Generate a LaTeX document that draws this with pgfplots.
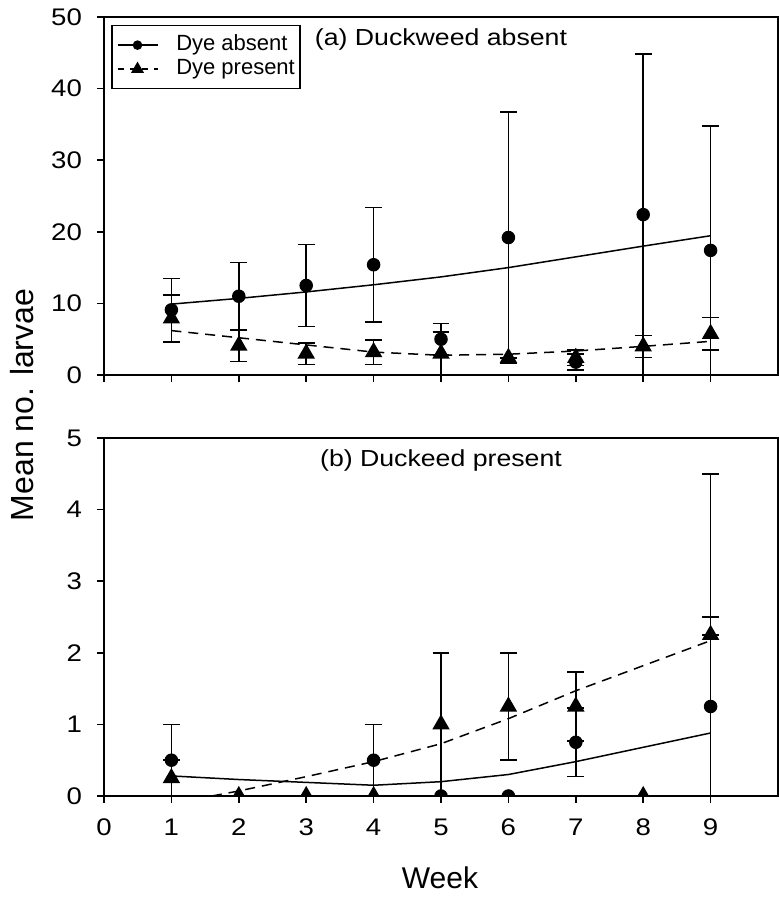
\documentclass[border=0pt]{standalone}
\usepackage{fontspec}
\setmainfont{Liberation Sans}
\newfontfamily\widefont[FakeStretch=1.15]{Liberation Sans}
\usepackage{pgfplots}
\usepackage{pgfplotstable}
\pgfplotsset{compat=1.18}

% week, mean, error up, error down
\pgfplotstableread{
w m ep em
1 9.1 4.4 4.4
2 11.0 4.7 4.7
3 12.5 5.7 5.7
4 15.4 8.0 8.0
5 5.0 2.2 2.2
6 19.2 17.5 17.5
7 1.8 1.1 1.1
8 22.4 22.4 22.4
9 17.4 17.4 17.4
}\topabsent
\pgfplotstableread{
w m ep em
1 7.9 3.3 3.3
2 4.1 2.2 2.2
3 3.0 1.5 1.5
4 3.2 1.7 1.7
5 3.0 3.0 3.0
6 2.4 0.0 0.0
7 2.4 1.1 1.1
8 4.0 1.55 1.55
9 5.75 2.25 2.25
}\toppresent
\pgfplotstableread{
w m ep em
1 0.5 0.5 0.5
4 0.5 0.5 0.5
5 0.0 0.0 0.0
6 0.0 0.0 0.0
7 0.75 0.48 0.48
9 1.25 3.25 3.25
}\botabsent
\pgfplotstableread{
w m ep em
1 0.25 0.25 0.25
2 0.0 0.0 0.0
3 0.0 0.0 0.0
4 0.0 0.0 0.0
5 1.0 1.0 1.0
6 1.25 0.75 0.75
7 1.25 0.48 0.48
8 0.0 0.0 0.0
9 2.25 0.25 0.0
}\botpresent

\pgfplotsset{
  panel/.style={
    width=337pt, height=179pt, scale only axis,
    xmin=0, xmax=10, xtick={0,...,9},
    axis line style={line width=0.85pt},
    tick style={line width=0.75pt, black},
    tick align=outside, major tick length=3.5pt,
    xtick pos=bottom, ytick pos=left,
    ticklabel style={font=\widefont\fontsize{12}{12}\selectfont},
    xticklabel style={yshift=-4.5pt},
    yticklabel style={xshift=-4pt},
    /pgf/number format/assume math mode=true,
    clip marker paths=true,
  },
  fit/.style={black, line width=0.75pt, no marks},
  pts/.style={black, only marks, line width=0.75pt,
    error bars/y dir=both, error bars/y explicit,
    error bars/error bar style={line width=0.75pt, solid},
    error bars/error mark options={rotate=90, mark size=4.2pt, line width=0.75pt, solid}},
  dot/.style={mark=*, mark size=3pt, mark options={solid, fill=black}},
  tri/.style={mark=triangle*, mark size=4.3pt, mark options={solid, fill=black}},
  dsh/.style={dash pattern=on 5pt off 3.5pt},
}

\begin{document}
\begin{tikzpicture}
\useasboundingbox (-52pt,-441pt) rectangle (337.5pt,8.5pt);

\begin{axis}[panel, at={(0,0)}, anchor=north west,
    ymin=0, ymax=50, ytick={0,10,...,50}, xticklabels={},
    legend style={at={(0.0104,0.978)}, anchor=north west, draw=black,
      line width=0.75pt, font=\fontsize{11}{11}\selectfont,
      inner xsep=2.5pt, inner ysep=4.5pt, row sep=1.5pt, column sep=9pt,
      nodes={inner sep=0pt, text height=8pt, text depth=2.5pt},
      cells={anchor=west}},
    legend image code/.code={\draw[mark repeat=2, mark phase=2, #1]
      plot coordinates {(0pt,0pt) (10pt,0pt) (20pt,0pt)};},
  ]
  \addlegendimage{black, line width=0.75pt, mark=*, mark size=2pt}
  \addlegendimage{black, line width=0.75pt, dash pattern=on 3pt off 3pt,
    mark=triangle*, mark size=3pt, mark options={solid}}
  \legend{Dye absent, Dye present}

  \addplot[fit] coordinates {
    (1,9.9) (2,10.7) (3,11.6) (4,12.6) (5,13.7) (6,15.0) (7,16.5) (8,18.0) (9,19.45)};
  \addplot[fit, dsh] coordinates {
    (1,6.2) (2,5.2) (3,4.2) (4,3.2) (5,2.75) (6,2.9) (7,3.35) (8,4.0) (9,4.7)};
  \addplot[pts, dot] table[x=w, y=m, y error plus=ep, y error minus=em] {\topabsent};
  \addplot[pts, tri] table[x=w, y=m, y error plus=ep, y error minus=em] {\toppresent};
\end{axis}

\begin{axis}[panel, at={(0,-210.5pt)}, anchor=north west,
    ymin=0, ymax=5, ytick={0,...,5}]
  \addplot[fit] coordinates {
    (1,0.28) (2,0.23) (3,0.19) (4,0.15) (5,0.2) (6,0.3) (7,0.48) (8,0.68) (9,0.88)};
  \addplot[fit, dsh] coordinates {
    (1.6,0) (2,0.07) (3,0.27) (4,0.48) (5,0.73) (6,1.08) (7,1.47) (8,1.82) (9,2.17)};
  \addplot[pts, dot] table[x=w, y=m, y error plus=ep, y error minus=em] {\botabsent};
  \addplot[pts, tri] table[x=w, y=m, y error plus=ep, y error minus=em] {\botpresent};
\end{axis}

\node[anchor=base, font=\widefont\fontsize{11.6}{12}\selectfont] at (168.5pt,-14.5pt) {(a) Duckweed absent};
\node[anchor=base, font=\widefont\fontsize{11.6}{12}\selectfont] at (168.5pt,-224.8pt) {(b) Duckeed present};
\node[rotate=90, font=\fontsize{16}{16}\selectfont] at (-41pt,-194pt) {Mean no. larvae};
\node[anchor=base, font=\fontsize{15}{15}\selectfont] at (168pt,-435.5pt) {Week};
\end{tikzpicture}
\end{document}
